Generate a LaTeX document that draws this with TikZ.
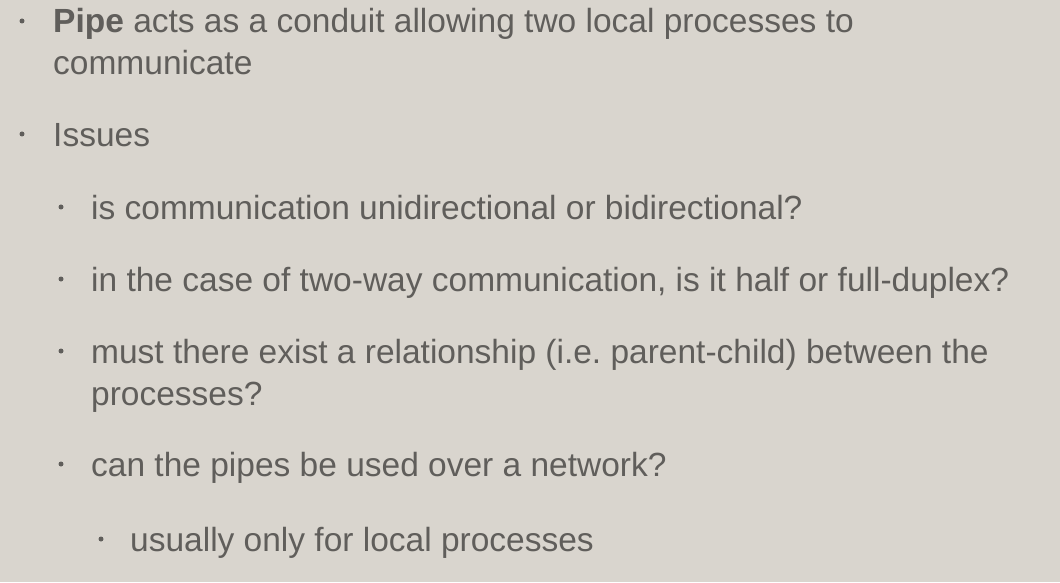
\documentclass[tikz,border=0pt]{standalone}
\usepackage{fontspec}
\setmainfont{Liberation Sans}
\definecolor{bg}{HTML}{D9D5CE}
\definecolor{ink}{HTML}{605E5B}
\begin{document}
\begin{tikzpicture}[x=1pt,y=1pt,
  txt/.style={anchor=base west,inner sep=0pt,text=ink,font=\fontsize{33.5}{42}\selectfont},
  dot/.style={fill=ink,circle,inner sep=0pt,minimum size=5pt}]
\fill[bg] (0,0) rectangle (1060,582);
\useasboundingbox (0,0) rectangle (1060,582);
% level 1
\node[dot] (b1) at (22,582-21) {};
\node[txt] (t1) at (53,582-33) {\textbf{Pipe} acts as a conduit allowing two local processes to};
\node[txt] (t1b) at (53,582-75) {communicate};
\node[dot] (b2) at (22,582-134) {};
\node[txt] (t2) at (53,582-147) {Issues};
% level 2
\node[dot] (b3) at (61,582-207) {};
\node[txt] (t3) at (91,582-220) {is communication unidirectional or bidirectional?};
\node[dot] (b4) at (61,582-279) {};
\node[txt] (t4) at (91,582-291) {in the case of two-way communication, is it half or full-duplex?};
\node[dot] (b5) at (61,582-351) {};
\node[txt] (t5) at (91,582-363) {must there exist a relationship (i.e.\ parent-child) between the};
\node[txt] (t5b) at (91,582-405) {processes?};
\node[dot] (b6) at (61,582-464) {};
\node[txt] (t6) at (91,582-476) {can the pipes be used over a network?};
% level 3
\node[dot] (b7) at (101,582-539) {};
\node[txt] (t7) at (130,582-551) {usually only for local processes};
\end{tikzpicture}
\end{document}
